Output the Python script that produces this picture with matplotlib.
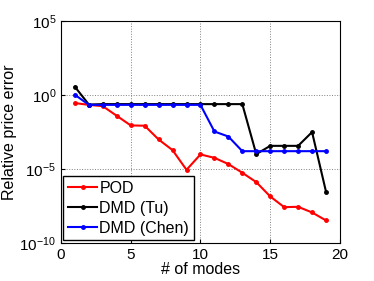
import numpy as np
import matplotlib.pyplot as plt
from matplotlib.ticker import FixedLocator, NullLocator

plt.rcParams['font.family'] = ['Liberation Sans', 'DejaVu Sans']
plt.rcParams['mathtext.fontset'] = 'custom'
plt.rcParams['mathtext.rm'] = 'Liberation Sans'
plt.rcParams['mathtext.it'] = 'Liberation Sans:italic'

modes = np.arange(1, 20)

# log10 of the relative price error
pod_log = [-0.56, -0.68, -0.77, -1.42, -2.07, -2.09, -3.02, -3.74, -5.07, -4.03,
           -4.26, -4.68, -5.27, -5.90, -6.87, -7.59, -7.57, -7.95, -8.49]
tu_log = [0.54, -0.66, -0.63, -0.63, -0.63, -0.63, -0.63, -0.63, -0.63, -0.63,
          -0.63, -0.63, -0.63, -4.01, -3.45, -3.45, -3.45, -2.52, -6.55]
chen_log = [0.0, -0.68, -0.68, -0.68, -0.68, -0.68, -0.68, -0.68, -0.68, -0.68,
            -2.48, -2.82, -3.81, -3.81, -3.81, -3.81, -3.81, -3.81, -3.81]

pod = 10.0 ** np.array(pod_log)
tu = 10.0 ** np.array(tu_log)
chen = 10.0 ** np.array(chen_log)

fig = plt.figure(figsize=(3.74, 2.81), dpi=100)
ax = fig.add_axes([0.163, 0.136, 0.746, 0.790])

ax.semilogy(modes, pod, color="red", marker=".", markersize=5, linewidth=1.5, label="POD")
ax.semilogy(modes, tu, color="black", marker=".", markersize=5, linewidth=1.5, label="DMD (Tu)")
ax.semilogy(modes, chen, color="blue", marker=".", markersize=5, linewidth=1.5, label="DMD (Chen)")

ax.set_xlim(0, 20)
ax.set_ylim(1e-10, 1e5)
ax.set_xticks([0, 5, 10, 15, 20])
ax.yaxis.set_major_locator(FixedLocator([1e-10, 1e-5, 1e0, 1e5]))
ax.yaxis.set_minor_locator(NullLocator())
ax.tick_params(direction="in", labelsize=11, length=3)

ax.set_xlabel("# of modes", fontsize=11.5, labelpad=0)
ax.set_ylabel("Relative price error", fontsize=11.5, labelpad=2)

ax.grid(True, linestyle=":", color="gray", linewidth=0.7)

leg = ax.legend(loc="lower left", fontsize=11.5, fancybox=False, framealpha=1,
                borderaxespad=0.15, handlelength=1.8, handletextpad=0.15,
                borderpad=0.3, labelspacing=0.3)
leg.get_frame().set_edgecolor("black")
leg.get_frame().set_linewidth(1.0)

fig.savefig("out.png", dpi=100)
